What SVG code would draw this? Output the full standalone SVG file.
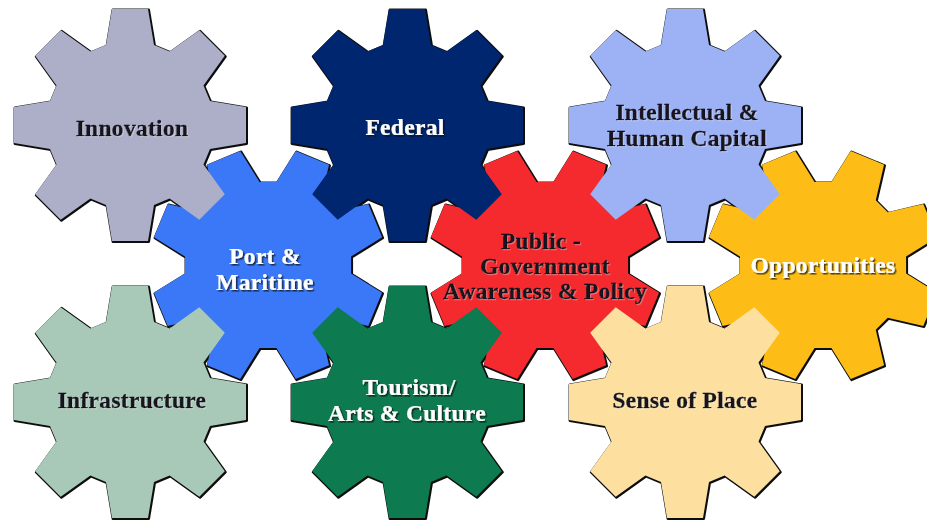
<svg xmlns="http://www.w3.org/2000/svg" xmlns:xlink="http://www.w3.org/1999/xlink" width="927" height="521" viewBox="0 0 927 521">
<style>
text{font-family:"Liberation Serif","Times New Roman",serif;font-weight:700;font-size:23.5px;text-anchor:middle;letter-spacing:.3px}
.d{fill:#14121f;stroke:#14121f;stroke-width:.35;filter:url(#sl)}
.w{fill:#fff;stroke:#fff;stroke-width:.2;filter:url(#sd)}
.o{fill:#111;stroke:#111;stroke-width:2.4;stroke-linejoin:round}
.s{filter:url(#b)}
</style>
<defs>
<path id="g" d="M-18-116L18-116L24-80L39.6-73.5L69.3-94.8L94.8-69.3L73.5-39.6L80-24L116-18L116 18L80 24L73.5 39.6L94.8 69.3L69.3 94.8L39.6 73.5L24 80L18 116L-18 116L-24 80L-39.6 73.5L-69.3 94.8L-94.8 69.3L-73.5 39.6L-80 24L-116 18L-116-18L-80-24L-73.5-39.6L-94.8-69.3L-69.3-94.8L-39.6-73.5L-24-80Z"/>
<filter id="sd" x="-10%" y="-30%" width="120%" height="170%"><feGaussianBlur in="SourceGraphic" stdDeviation=".35" result="t"/><feDropShadow in="t" dx="1.5" dy="1.5" stdDeviation=".7" flood-color="#111" flood-opacity=".75"/></filter>
<filter id="sl" x="-10%" y="-30%" width="120%" height="170%"><feGaussianBlur in="SourceGraphic" stdDeviation=".35" result="t"/><feDropShadow in="t" dx="1" dy="1" stdDeviation=".5" flood-color="#fff" flood-opacity=".3"/></filter>
<filter id="b" x="-5%" y="-5%" width="110%" height="110%"><feGaussianBlur stdDeviation=".5"/></filter>
</defs>
<rect width="927" height="521" fill="#fff"/>
<g id="gear-outlines" class="o s">
<use xlink:href="#g" href="#g" transform="translate(268.8 265.8) rotate(22.5)"/>
<use xlink:href="#g" href="#g" transform="translate(545.8 265.8) rotate(22.5)"/>
<use xlink:href="#g" href="#g" transform="translate(823.8 265.8) rotate(22.5)"/>
<use xlink:href="#g" href="#g" transform="translate(130.8 125.8)"/>
<use xlink:href="#g" href="#g" transform="translate(407.8 125.8)"/>
<use xlink:href="#g" href="#g" transform="translate(685.8 125.8)"/>
<use xlink:href="#g" href="#g" transform="translate(130.8 402.8)"/>
<use xlink:href="#g" href="#g" transform="translate(407.8 402.8)"/>
<use xlink:href="#g" href="#g" transform="translate(685.8 402.8)"/>
</g>
<g id="port" class="s"><use xlink:href="#g" href="#g" fill="#3b78f7" transform="translate(268 265) rotate(22.5)"/></g>
<g id="public" class="s"><use xlink:href="#g" href="#g" fill="#f52a2e" transform="translate(545 265) rotate(22.5)"/></g>
<g id="opportunities" class="s"><use xlink:href="#g" href="#g" fill="#fdbd14" transform="translate(823 265) rotate(22.5)"/></g>
<g id="innovation" class="s"><use xlink:href="#g" href="#g" fill="#adafc9" transform="translate(130 125)"/></g>
<g id="federal" class="s"><use xlink:href="#g" href="#g" fill="#03256f" transform="translate(407 125)"/></g>
<g id="intellectual" class="s"><use xlink:href="#g" href="#g" fill="#9db1f5" transform="translate(685 125)"/></g>
<g id="infrastructure" class="s"><use xlink:href="#g" href="#g" fill="#a9c9b8" transform="translate(130 402)"/></g>
<g id="tourism" class="s"><use xlink:href="#g" href="#g" fill="#0a7a50" transform="translate(407 402)"/></g>
<g id="sense" class="s"><use xlink:href="#g" href="#g" fill="#fde0a0" transform="translate(685 402)"/></g>
<g id="labels">
<text class="d" x="132" y="136">Innovation</text>
<text class="w" x="405" y="135">Federal</text>
<text class="d" x="687" y="120">Intellectual &amp;</text>
<text class="d" x="687" y="146">Human Capital</text>
<text class="w" x="265" y="264">Port &amp;</text>
<text class="w" x="265" y="290">Maritime</text>
<text class="d" x="541" y="249">Public -</text>
<text class="d" x="545" y="274">Government</text>
<text class="d" x="545" y="299">Awareness &amp; Policy</text>
<text class="w" x="823" y="273">Opportunities</text>
<text class="d" x="132" y="408">Infrastructure</text>
<text class="w" x="409" y="395">Tourism/</text>
<text class="w" x="407" y="421">Arts &amp; Culture</text>
<text class="d" x="685" y="408">Sense of Place</text>
</g>
</svg>
